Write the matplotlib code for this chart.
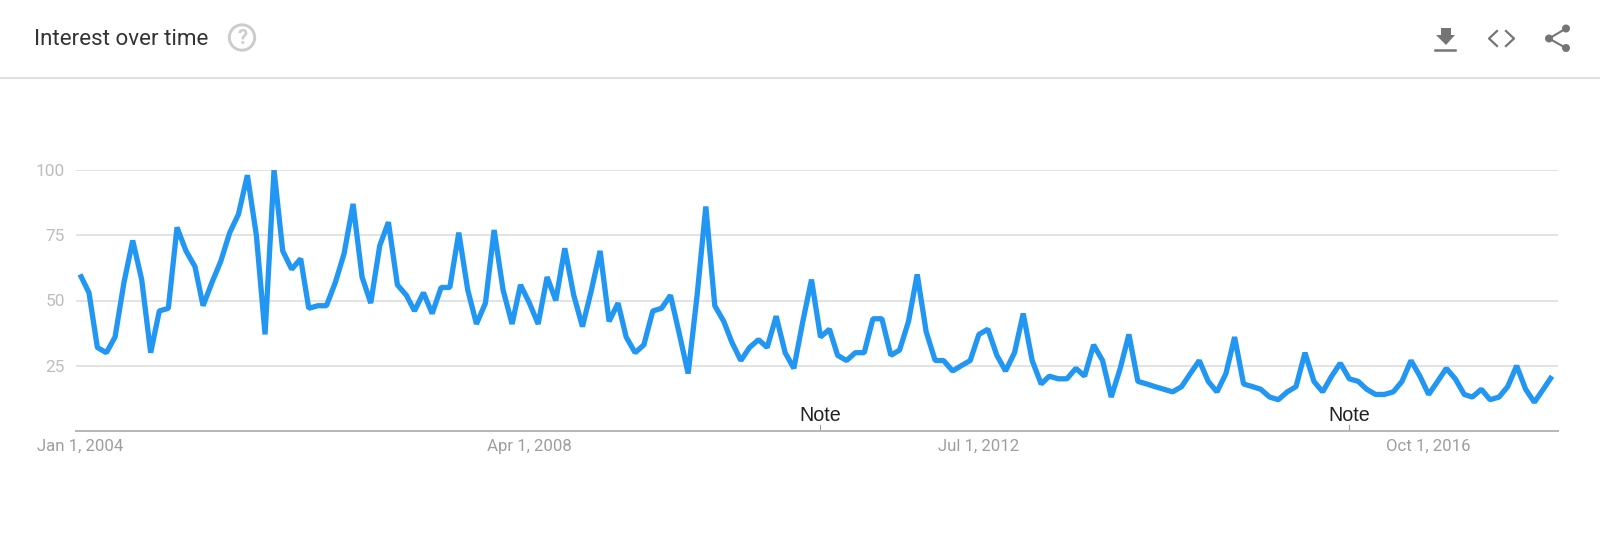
import numpy as np
import pandas as pd
import matplotlib
matplotlib.use('Agg')
import matplotlib.pyplot as plt
from matplotlib.patches import Circle, Polygon

plt.rcParams['font.family'] = ['Roboto', 'DejaVu Sans']

# monthly interest, Jan 2004 to Dec 2017
interest = [60, 53, 32, 30, 36, 57, 73, 58, 30, 46, 47, 78,
            69, 63, 48, 57, 65, 76, 83, 98, 75, 37, 100, 69,
            62, 66, 47, 48, 48, 57, 68, 87, 59, 49, 71, 80,
            56, 52, 46, 53, 45, 55, 55, 76, 54, 41, 49, 77,
            54, 41, 56, 49, 41, 59, 50, 70, 52, 40, 54, 69,
            42, 49, 36, 30, 33, 46, 47, 52, 37, 22, 52, 86,
            48, 42, 34, 27, 32, 35, 32, 44, 30, 24, 42, 58,
            36, 39, 29, 27, 30, 30, 43, 43, 29, 31, 42, 60,
            38, 27, 27, 23, 25, 27, 37, 39, 29, 23, 30, 45,
            27, 18, 21, 20, 20, 24, 21, 33, 27, 13, 24, 37,
            19, 18, 17, 16, 15, 17, 22, 27, 19, 15, 22, 36,
            18, 17, 16, 13, 12, 15, 17, 30, 19, 15, 21, 26,
            20, 19, 16, 14, 14, 15, 19, 27, 21, 14, 19, 24,
            20, 14, 13, 16, 12, 13, 17, 25, 16, 11, 16, 21]
months = pd.date_range('2004-01-01', periods=len(interest), freq='MS')

y_ticks = [25, 50, 75, 100]
x_ticks = ['2004-01-01', '2008-04-01', '2012-07-01', '2016-10-01']
x_tick_labels = ['Jan 1, 2004', 'Apr 1, 2008', 'Jul 1, 2012', 'Oct 1, 2016']
note_dates = ['2011-01-01', '2016-01-01']

W, H = 1600, 543
fg = plt.figure(figsize=(W/100, H/100), dpi=100, facecolor='white')

# pixel box of the plot area
left, right, top, bottom = 76, 1558, 170, 431
ax = fg.add_axes([left/W, 1-bottom/H, (right-left)/W, (bottom-top)/H])
ax.set_ylim(0, 100)
step = (months[-1] - months[0]) / (len(months) - 1)
x0 = months[0] - step*(80-left)/8.81
x1 = months[-1] + step*(right-1552)/8.81
ax.set_xlim(x0, x1)

ax.plot(months, interest, color='#2196f3', lw=3.8, solid_joinstyle='bevel',
        solid_capstyle='butt', zorder=3)

ax.set_yticks(y_ticks)
ax.set_yticklabels([str(v) for v in y_ticks], fontsize=12.4, color='#bdbdbd')
ax.set_xticks(pd.to_datetime(x_ticks))
ax.set_xticklabels(x_tick_labels, fontsize=12.1, color='#9e9e9e')
ax.tick_params(axis='both', length=0)
ax.tick_params(axis='x', pad=5.5)
ax.tick_params(axis='y', pad=8)
ax.grid(True, axis='y', color='#e3e3e3', lw=1.4)
ax.set_axisbelow(True)
for s in ['top', 'left', 'right']:
    ax.spines[s].set_visible(False)
ax.spines['bottom'].set_color('#b5b5b5')
ax.spines['bottom'].set_linewidth(1.4)

for d in pd.to_datetime(note_dates):
    ax.plot([d, d], [0, 2.4], color='#9e9e9e', lw=0.8, zorder=2)
    ax.text(d, 2.3, 'Note', ha='center', va='bottom', fontsize=14.2,
            color='#222222', family='Liberation Sans')

# header drawn in pixel coordinates
hd = fg.add_axes([0, 0, 1, 1], facecolor='none')
hd.set_xlim(0, W)
hd.set_ylim(H, 0)
hd.axis('off')
hd.plot([0, W], [77.5, 77.5], color='#e0e0e0', lw=1.5)
hd.text(33.5, 39.5, 'Interest over time', fontsize=16.1, color='#333333', va='center')

# help icon
hd.add_patch(Circle((242, 37.5), 12.7, fill=False, ec='#cccccc', lw=2.1))
hd.text(242, 38, '?', fontsize=14.5, color='#cccccc', ha='center', va='center',
        fontweight='bold')

# download icon
icon = '#757575'
hd.add_patch(Polygon([(1441, 28), (1451, 28), (1451, 35), (1455, 35), (1446, 45), (1436, 35), (1441, 35)],
                     closed=True, fc=icon, ec='none'))
hd.plot([1435, 1455], [50, 50], color=icon, lw=1.8)

# embed icon
hd.plot([1497, 1489, 1497], [31, 38.5, 46], color=icon, lw=1.6)
hd.plot([1506, 1514, 1506], [31, 38.5, 46], color=icon, lw=1.6)

# share icon
hd.plot([1566, 1549, 1566], [28.5, 38.5, 48], color=icon, lw=1.5)
for cx, cy in [(1566, 28.5), (1549, 38.5), (1566, 48)]:
    hd.add_patch(Circle((cx, cy), 4, fc=icon, ec='none'))

fg.savefig('out.png', dpi=100)
